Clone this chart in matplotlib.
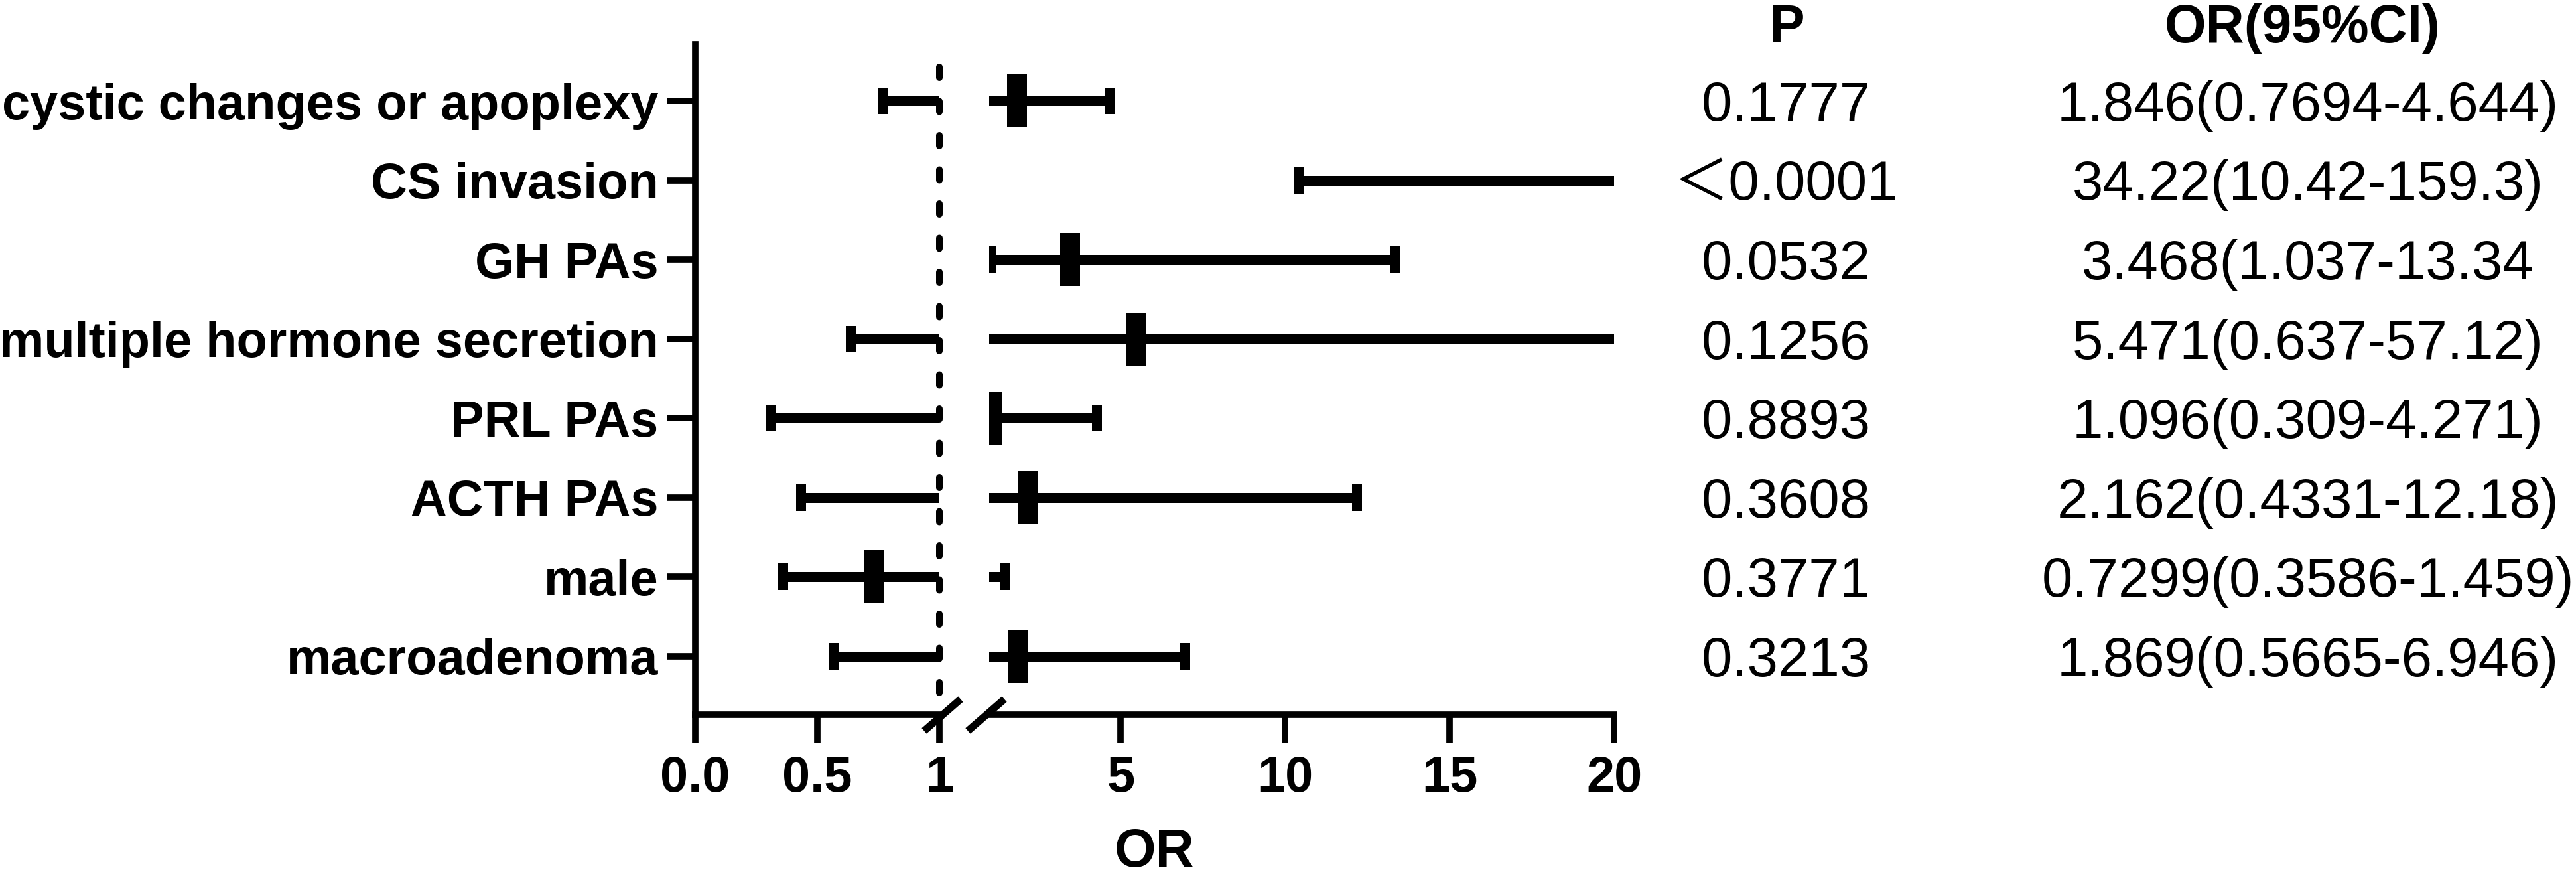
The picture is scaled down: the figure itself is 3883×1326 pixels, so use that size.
import matplotlib
matplotlib.use("Agg")
import matplotlib.pyplot as plt
import matplotlib.transforms as mtransforms
import numpy as np

# forest plot data (rows top to bottom)
labels = ["cystic changes or apoplexy", "CS invasion", "GH PAs",
          "multiple hormone secretion", "PRL PAs", "ACTH PAs", "male",
          "macroadenoma"]
or_vals = [1.846, 34.22, 3.468, 5.471, 1.096, 2.162, 0.7299, 1.869]
ci_low = [0.7694, 10.42, 1.037, 0.637, 0.309, 0.4331, 0.3586, 0.5665]
ci_high = [4.644, 159.3, 13.34, 57.12, 4.271, 12.18, 1.459, 6.946]
p_text = ["0.1777", "＜0.0001", "0.0532", "0.1256", "0.8893", "0.3608",
          "0.3771", "0.3213"]
or_text = ["1.846(0.7694-4.644)", "34.22(10.42-159.3)", "3.468(1.037-13.34",
           "5.471(0.637-57.12)", "1.096(0.309-4.271)", "2.162(0.4331-12.18)",
           "0.7299(0.3586-1.459)", "1.869(0.5665-6.946)"]

left_ticks = [0, 0.5, 1]
left_ticklabels = ["0.0", "0.5", "1"]
right_ticks = [5, 10, 15, 20]

plt.rcParams['font.family'] = ['Liberation Sans', 'Noto Sans CJK SC']

W, H = 3883, 1326
fig = plt.figure(figsize=(W / 100, H / 100), dpi=100)


def px_box(x0, x1, y_top, y_bot):
    return [x0 / W, 1 - y_bot / H, (x1 - x0) / W, (y_bot - y_top) / H]


ax1 = fig.add_axes(px_box(1048, 1416, 67, 1077))
ax2 = fig.add_axes(px_box(1491, 2433, 67, 1077), sharey=ax1)
ax1.set_xlim(0, 1)
ax2.set_xlim(1, 20)
ax1.set_ylim(7.736, -0.711)

rows = np.arange(len(labels))
or_arr = np.array(or_vals)
lo_arr = np.array(ci_low)
hi_arr = np.array(ci_high)
box_marker = [(-15, -40), (15, -40), (15, 40), (-15, 40), (-15, -40)]
cap_marker = [(-7.5, -20), (7.5, -20), (7.5, 20), (-7.5, 20), (-7.5, -20)]

for ax in (ax1, ax2):
    x0, x1 = ax.get_xlim()
    ax.hlines(rows, lo_arr, hi_arr, lw=10.8, color='k', capstyle='butt')
    # only markers whose centre falls inside this segment
    for vals, mk, ms in ((lo_arr, cap_marker, 28.8), (hi_arr, cap_marker, 28.8),
                         (or_arr, box_marker, 57.6)):
        keep = (vals >= x0) & (vals <= x1)
        ax.plot(vals[keep], rows[keep], ls='none', marker=mk, ms=ms, mew=0,
                color='k')
    ax.spines['top'].set_visible(False)
    ax.spines['right'].set_visible(False)
    for s in ax.spines.values():
        s.set_linewidth(7)
    ax.tick_params(axis='both', length=30, width=7, labelsize=54.5, pad=14)

ax1.set_xticks(left_ticks, left_ticklabels, fontweight='bold')
ax2.set_xticks(right_ticks, [str(t) for t in right_ticks], fontweight='bold')
ax1.set_yticks(rows, labels, fontweight='bold')
ax1.tick_params(axis='y', pad=10)

ax2.spines['left'].set_visible(False)
ax2.tick_params(axis='y', left=False, labelleft=False)

# reference line at OR = 1
ax1.axvline(1, ymin=0.0327, ymax=0.99, color='k', lw=7.2,
            ls=(0, (1.6, 3.55)), dash_capstyle='round', clip_on=False)

# axis break marks
brk = [(-1.15, -1), (1.15, 1)]
ax1.plot([1 + 4 / 368], [0], transform=ax1.transAxes, marker=brk, ms=39.6,
         mew=8, color='k', clip_on=False)
ax2.plot([-5 / 942], [0], transform=ax2.transAxes, marker=brk, ms=39.6,
         mew=8, color='k', clip_on=False)

fig.text(1740 / W, 0.002, "OR", ha='center', va='bottom',
         fontsize=58, fontweight='bold')

# P and OR(95%CI) columns
fig.text(2693 / W, 1 - 64 / H, "P", ha='center', va='baseline',
         fontsize=58, fontweight='bold')
fig.text(3471 / W, 1 - 64 / H, "OR(95%CI)", ha='center', va='baseline',
         fontsize=58, fontweight='bold')

tr = mtransforms.blended_transform_factory(fig.transFigure, ax1.transData)
tr_off = mtransforms.offset_copy(tr, fig=fig, y=-0.358 * 60, units='points')
for i in rows:
    fig.text(2692 / W, i, p_text[i], transform=tr_off, ha='center',
             va='baseline', fontsize=60)
    fig.text(3479 / W, i, or_text[i], transform=tr_off, ha='center',
             va='baseline', fontsize=60)

fig.savefig("out.png", dpi=100, facecolor='white')
